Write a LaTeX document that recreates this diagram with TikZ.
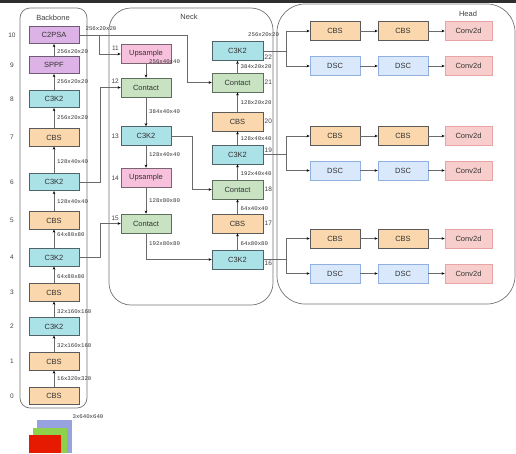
\documentclass[tikz,border=0pt]{standalone}
\usepackage{fontspec}
\setmainfont{Liberation Sans}
\newfontfamily\dimfont{Liberation Mono}
\usetikzlibrary{arrows.meta}
\definecolor{cbsF}{HTML}{FAD7AC}\definecolor{cbsD}{HTML}{5A5A5A}
\definecolor{c3kF}{HTML}{ABE2E8}\definecolor{c3kD}{HTML}{4F6468}
\definecolor{psaF}{HTML}{DDB2E6}\definecolor{psaD}{HTML}{6E5A72}
\definecolor{upsF}{HTML}{F7C0DC}\definecolor{upsD}{HTML}{7A6470}
\definecolor{catF}{HTML}{C8E2C2}\definecolor{catD}{HTML}{5E6E5C}
\definecolor{dscF}{HTML}{DAE8FC}\definecolor{dscD}{HTML}{8FB0E0}
\definecolor{cnvF}{HTML}{F8CECC}\definecolor{cnvD}{HTML}{E8A4A4}
\definecolor{lineC}{HTML}{6A6A6A}
\definecolor{topbar}{HTML}{2E2E2E}
\begin{document}
\begin{tikzpicture}[x=1pt,y=-1pt,
  sBlk/.style={rectangle, minimum width=50pt, minimum height=19pt, inner sep=0pt, line width=0.7pt, font=\fontsize{7.5}{8}\selectfont, text=black!80},
  sCbs/.style={sBlk, fill=cbsF, draw=cbsD},
  sC3k/.style={sBlk, fill=c3kF, draw=c3kD},
  sPsa/.style={sBlk, fill=psaF, draw=psaD},
  sUps/.style={sBlk, fill=upsF, draw=upsD},
  sCat/.style={sBlk, fill=catF, draw=catD},
  sDsc/.style={sBlk, fill=dscF, draw=dscD},
  sCnv/.style={sBlk, fill=cnvF, draw=cnvD, minimum width=47pt},
  sBb/.style={minimum height=17.5pt},
  sDim/.style={font=\dimfont\fontsize{5.7}{6}\selectfont, text=black!80, inner sep=0pt},
  sNum/.style={font=\fontsize{6.5}{7}\selectfont, text=black!75, inner sep=0pt},
  sTtl/.style={font=\fontsize{7.5}{8}\selectfont, text=black!75, inner sep=0pt},
  sCont/.style={draw=black!55, line width=0.7pt},
  sLn/.style={draw=lineC, line width=0.6pt},
  sArr/.style={sLn, -{Stealth[length=3pt,width=2.6pt,black]}}
]
\useasboundingbox (0,0) rectangle (516,453);
\fill[topbar] (0,0) rectangle (516,3);

% containers
\draw[sCont, rounded corners=10pt] (20,8) rectangle (87,408);
\draw[sCont, rounded corners=22pt] (109,8) rectangle (273,305);
\draw[sCont, rounded corners=28pt] (277,4) rectangle (515,304);
\node[sTtl] (tB) at (53,18) {Backbone};
\node[sTtl] (tN) at (189,17) {Neck};
\node[sTtl] (tH) at (468,14) {Head};

% input image stack
\fill[fill={rgb,255:red,151;green,163;blue,224}] (37,420) rectangle (72,453);
\fill[fill={rgb,255:red,142;green,209;blue,75}] (33,428) rectangle (67,453);
\fill[fill={rgb,255:red,230;green,26;blue,0}] (29,435) rectangle (61,453);
\node[sDim] (inDim) at (88,417) {3x640x640};

% backbone
\node[sPsa,sBb] (b10) at (54,35) {C2PSA};
\node[sPsa,sBb] (b9) at (54,65) {SPPF};
\node[sC3k,sBb] (b8) at (54,99) {C3K2};
\node[sCbs,sBb] (b7) at (54,137.5) {CBS};
\node[sC3k,sBb] (b6) at (54,182) {C3K2};
\node[sCbs,sBb] (b5) at (54,220.5) {CBS};
\node[sC3k,sBb] (b4) at (54,257.5) {C3K2};
\node[sCbs,sBb] (b3) at (54,292.5) {CBS};
\node[sC3k,sBb] (b2) at (54,326.5) {C3K2};
\node[sCbs,sBb] (b1) at (54,361.5) {CBS};
\node[sCbs,sBb] (b0) at (54,396) {CBS};
\foreach \n/\y in {10/35,9/65,8/99,7/137.5,6/182,5/220.5,4/257.5,3/292.5,2/326.5,1/361.5,0/396}
  \node[sNum] (bn\n) at (12,\y) {\n};
\draw[sArr] (b0) -- (b1);
\draw[sArr] (b1) -- (b2);
\draw[sArr] (b2) -- (b3);
\draw[sArr] (b3) -- (b4);
\draw[sArr] (b4) -- (b5);
\draw[sArr] (b5) -- (b6);
\draw[sArr] (b6) -- (b7);
\draw[sArr] (b7) -- (b8);
\draw[sArr] (b8) -- (b9);
\draw[sArr] (b9) -- (b10);
\foreach \t/\y [count=\i] in {256x20x20/52,256x20x20/82,256x20x20/118,128x40x40/162,128x40x40/202,64x80x80/235,64x80x80/277,32x160x160/312,32x160x160/346,16x320x320/379}
  \node[sDim, anchor=west] (bd\i) at (57,\y) {\t};

% neck left column
\node[sUps] (n11) at (146,54) {Upsample};
\node[sCat] (n12) at (146,87.5) {Contact};
\node[sC3k] (n13) at (146,136) {C3K2};
\node[sUps] (n14) at (146,177.5) {Upsample};
\node[sCat] (n15) at (146,223.5) {Contact};
% neck right column
\node[sC3k, minimum width=51pt] (n22) at (237.5,51) {C3K2};
\node[sCat, minimum width=51pt] (n21) at (237.5,82.5) {Contact};
\node[sCbs, minimum width=51pt] (n20) at (237.5,121.5) {CBS};
\node[sC3k, minimum width=51pt] (n19) at (237.5,154.5) {C3K2};
\node[sCat, minimum width=51pt] (n18) at (237.5,189.5) {Contact};
\node[sCbs, minimum width=51pt] (n17) at (237.5,223.5) {CBS};
\node[sC3k, minimum width=51pt] (n16) at (237.5,259.5) {C3K2};

\foreach \n/\y in {11/48,12/81,13/136,14/178,15/218}
  \node[sNum, anchor=east] (nn\n) at (119,\y) {\n};
\foreach \n/\y in {22/57,21/82,20/121,19/150,18/189,17/223,16/263}
  \node[sNum, anchor=west] (nn\n) at (264.5,\y) {\n};

\node[sDim] (nd0) at (101,29) {256x20x20};
\foreach \t/\y [count=\i] in {256x40x40/62,384x40x40/112,128x40x40/155,128x80x80/201,192x80x80/244}
  \node[sDim, anchor=west] (ndl\i) at (149,\y) {\t};
\node[sDim, anchor=west] (ndr0) at (248,35) {256x20x20};
\foreach \t/\y [count=\i] in {384x20x20/67,128x20x20/103,128x40x40/139,192x40x40/174,64x40x40/209,64x80x80/244}
  \node[sDim, anchor=west] (ndr\i) at (240.5,\y) {\t};

% neck connectors
\coordinate (k1) at (187,35);
\coordinate (k0) at (99,35);
\draw[sArr] (b10.east) -- (k1) |- (n21.west);
\draw[sArr] (k0) |- (n11.west);
\coordinate (k2) at (100,182);
\draw[sArr] (b6.east) -- (k2) |- (n12.west);
\coordinate (k3) at (100,257.5);
\draw[sArr] (b4.east) -- (k3) |- (n15.west);
\draw[sArr] (n11) -- (n12);
\draw[sArr] (n12) -- (n13);
\draw[sArr] (n13) -- (n14);
\draw[sArr] (n14) -- (n15);
\draw[sArr] (n15.south) |- (n16.west);
\coordinate (k4) at (192,136);
\draw[sArr] (n13.east) -- (k4) |- (n18.west);
\draw[sArr] (n16) -- (n17);
\draw[sArr] (n17) -- (n18);
\draw[sArr] (n18) -- (n19);
\draw[sArr] (n19) -- (n20);
\draw[sArr] (n20) -- (n21);
\draw[sArr] (n21) -- (n22);

% head
\foreach \r/\ya/\yb in {1/31/66,2/136/170.5,3/238.5/273.5}{
  \node[sCbs] (ha\r) at (335,\ya) {CBS};
  \node[sCbs] (hb\r) at (403,\ya) {CBS};
  \node[sCnv] (hc\r) at (468.5,\ya) {Conv2d};
  \node[sDsc] (da\r) at (335,\yb) {DSC};
  \node[sDsc] (db\r) at (403,\yb) {DSC};
  \node[sCnv] (dc\r) at (468.5,\yb) {Conv2d};
  \draw[sArr] (ha\r) -- (hb\r);
  \draw[sArr] (hb\r) -- (hc\r);
  \draw[sArr] (da\r) -- (db\r);
  \draw[sArr] (db\r) -- (dc\r);
}
\coordinate (j1) at (286,51);
\coordinate (j2) at (286,154.5);
\coordinate (j3) at (286,259.5);
\draw[sLn] (n22.east) -- (j1);
\draw[sArr] (j1) |- (ha1.west);
\draw[sArr] (j1) |- (da1.west);
\draw[sLn] (n19.east) -- (j2);
\draw[sArr] (j2) |- (ha2.west);
\draw[sArr] (j2) |- (da2.west);
\draw[sLn] (n16.east) -- (j3);
\draw[sArr] (j3) |- (ha3.west);
\draw[sArr] (j3) |- (da3.west);
\end{tikzpicture}
\end{document}
